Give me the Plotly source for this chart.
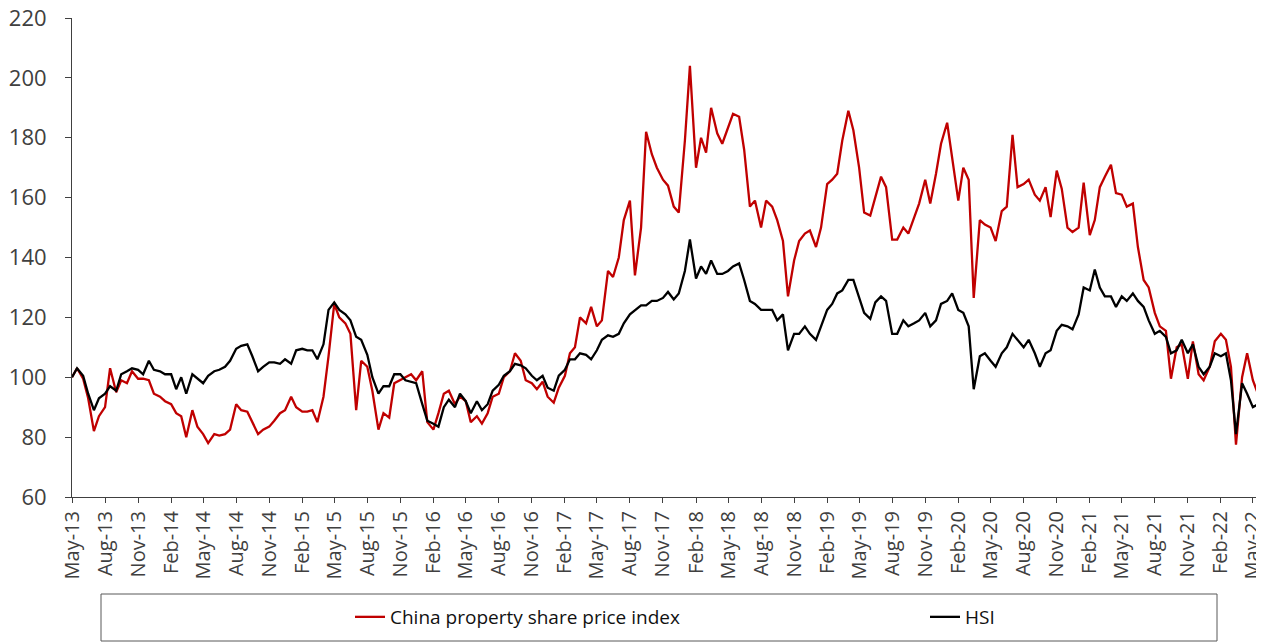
import pandas as pd
import plotly.graph_objects as go

# Semi-monthly readings (1st and 15th of each month), May 2013 - May 2022
START = "2013-05-01"

property_index = [
    # 2013 (May-Dec)
    100, 103, 99.5, 93, 82, 87, 90, 103, 95, 99, 98, 102, 99.5, 99.5, 99, 94.5,
    # 2014
    93.5, 92, 91, 88, 87, 80, 89, 83.5, 81, 78, 81, 80.5,
    81, 82.5, 91, 89, 88.5, 85, 81, 82.5, 83.5, 85.5, 88, 89,
    # 2015
    93.5, 90, 88.5, 88.5, 89, 85, 93.5, 107, 124.5, 120, 118, 114.5,
    89, 105.5, 103.5, 95.5, 82.5, 88, 86.5, 98, 99, 100, 101, 99,
    # 2016
    102, 85, 82.5, 88, 94.5, 95.5, 91, 93.5, 92, 85, 87, 84.5,
    88, 93.5, 94.5, 100, 102, 108, 105.5, 99, 98, 96, 98.5, 93.5,
    # 2017
    91.5, 96.5, 100.5, 108, 110, 120, 118, 123.5, 117, 119, 135.5, 133.5,
    140, 152.5, 159, 134, 150, 182, 174.5, 170, 166, 164, 157, 155,
    # 2018
    179, 204, 170, 180, 175, 190, 181.5, 178, 183.5, 188, 187, 176,
    157, 159, 150, 159, 157, 152.5, 145.5, 127, 139, 145.5, 148, 149,
    # 2019
    143.5, 150, 164.5, 166, 168, 179, 189, 182.5, 170, 155, 154, 160,
    167, 163.5, 146, 146, 150, 148, 153.5, 158, 166, 158, 168, 178,
    # 2020
    185, 174, 159, 170, 166, 126.5, 152.5, 151, 150, 145.5, 155.5, 157,
    181, 163.5, 164.5, 166, 161, 159, 163.5, 153.5, 169, 163, 150, 148.5,
    # 2021
    150, 165, 147.5, 152.5, 163.5, 167, 171, 161.5, 161, 157, 158, 143.5,
    132.5, 130, 121.5, 117, 115.5, 99.5, 110, 111, 99.5, 112, 101, 99,
    # 2022 (Jan-May)
    103.5, 112, 114.5, 112.5, 103.5, 77.5, 100, 108, 99, 94.5,
]

hsi = [
    # 2013 (May-Dec)
    100, 103, 100.5, 94.5, 89, 93, 94.5, 97, 95.5, 101, 102, 103, 102.5, 101, 105.5, 102.5,
    # 2014
    102, 101, 101, 96, 100, 94.5, 101, 99.5, 98, 100.5, 102, 102.5,
    103.5, 105.5, 109.5, 110.5, 111, 107, 102, 103.5, 105, 105, 104.5, 106,
    # 2015
    104.5, 109, 109.5, 109, 109, 106, 111, 122.5, 125, 122.5, 121, 119,
    113.5, 112.5, 107.5, 100, 94.5, 97, 97, 101, 101, 99, 98.5, 98,
    # 2016
    91, 85.5, 84.5, 83.5, 90, 92.5, 90, 94.5, 92, 88, 92, 89,
    91, 95.5, 97.5, 100.5, 102, 104.5, 104, 103, 100.5, 99, 100.5, 96.5,
    # 2017
    95.5, 100.5, 102.5, 106, 106, 108, 107.5, 106, 109, 112.5, 114, 113.5,
    114.5, 118, 121, 122.5, 124, 124, 125.5, 125.5, 126.5, 128.5, 126, 128,
    # 2018
    135.5, 146, 133, 137, 134.5, 139, 134.5, 134.5, 135.5, 137, 138, 132.5,
    125.5, 124.5, 122.5, 122.5, 122.5, 119, 121, 109, 114.5, 114.5, 117, 114.5,
    # 2019
    112.5, 117, 122.5, 124.5, 128, 129, 132.5, 132.5, 127, 121.5, 119.5, 125,
    127, 125.5, 114.5, 114.5, 119, 117, 118, 119, 121.5, 117, 119, 124.5,
    # 2020
    125.5, 128, 122.5, 121.5, 117, 96, 107, 108, 105.5, 103.5, 108, 110,
    114.5, 112.5, 110, 112.5, 108, 103.5, 108, 109, 115.5, 117.5, 117, 116,
    # 2021
    121, 130, 129, 136, 130, 127, 127, 123.5, 127, 125.5, 128, 125.5,
    123.5, 119, 114.5, 115.5, 113.5, 108, 109, 112.5, 108, 111, 103.5, 101,
    # 2022 (Jan-May)
    103.5, 108, 107, 108, 99, 81, 98, 94.5, 90, 91,
]

dates = pd.date_range(start=START, periods=len(property_index), freq="SMS")

RED = "#C00000"
AXIS = "#404040"
FONT = "Open Sans, DejaVu Sans, sans-serif"

fig = go.Figure()
fig.add_trace(go.Scatter(
    x=dates, y=property_index, mode="lines",
    name="China property share price index",
    line=dict(color=RED, width=2.3),
    legend="legend",
))
fig.add_trace(go.Scatter(
    x=dates, y=hsi, mode="lines",
    name="HSI",
    line=dict(color="#000000", width=2.3),
    legend="legend2",
))

# page body adds an 8px margin, so the figure is 8px smaller than the window
W, H = 1256, 634
ML, MR, MT, MB = 64, 0, 10, 145
pw, ph = W - ML - MR, H - MT - MB


def px_x(p):
    return (p - ML) / pw


def px_y(p):
    return (H - MB - p) / ph


# legend frame
fig.add_shape(type="rect", xref="paper", yref="paper",
              x0=px_x(93), x1=px_x(1209), y0=px_y(633), y1=px_y(586),
              line=dict(color="#595959", width=1), fillcolor="rgba(0,0,0,0)")

legend_style = dict(
    orientation="h", xanchor="left", y=px_y(609), yanchor="middle",
    font=dict(size=19, color="#111111"), bgcolor="rgba(0,0,0,0)",
)

fig.update_layout(
    width=W, height=H,
    margin=dict(l=ML, r=MR, t=MT, b=MB, autoexpand=False),
    plot_bgcolor="white", paper_bgcolor="white",
    font=dict(family=FONT, size=20, color=AXIS),
    showlegend=True,
    legend=dict(x=px_x(342), **legend_style),
    legend2=dict(x=px_x(917), **legend_style),
    xaxis=dict(
        type="date", range=["2013-05-01", "2022-06-01"],
        tick0="2013-05-01", dtick="M3", tickformat="%b-%y",
        tickangle=-90, ticks="outside", ticklen=5, tickcolor=AXIS,
        showline=True, linecolor=AXIS, linewidth=1,
        showgrid=False, zeroline=False, automargin=False,
        ticklabeloverflow="allow",
        tickfont=dict(size=20, color=AXIS),
    ),
    yaxis=dict(
        range=[60, 220], dtick=20, ticks="outside", ticklen=6, tickcolor=AXIS,
        showline=True, linecolor=AXIS, linewidth=1,
        showgrid=False, zeroline=False, automargin=False,
        ticklabelstandoff=14, ticklabeloverflow="allow",
        tickfont=dict(size=22, color=AXIS),
    ),
)

fig.write_html("out.html")
